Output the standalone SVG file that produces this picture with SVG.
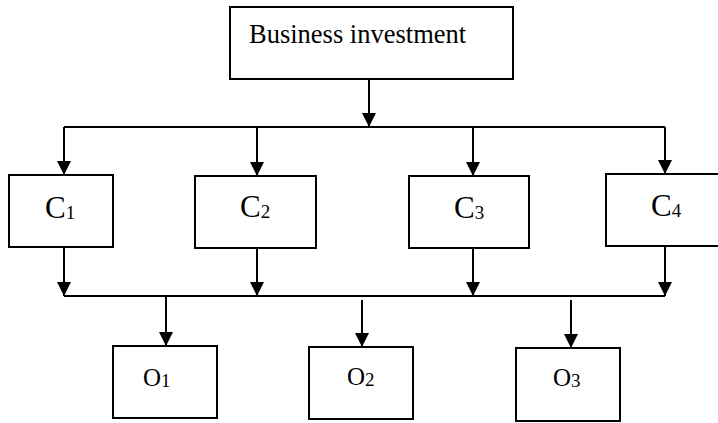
<svg xmlns="http://www.w3.org/2000/svg" width="718" height="423" viewBox="0 0 718 423">
<style>
.box{fill:#fff;stroke:#000;stroke-width:2}
.ln{fill:none;stroke:#000;stroke-width:2}
text{font-family:"Liberation Serif","Times New Roman",serif;fill:#000}
.t1{font-size:26.5px}
.tc{font-size:31px}
.to{font-size:25px}
.sub{font-size:19px}
</style>
<defs>
<marker id="ah" markerWidth="14" markerHeight="14" viewBox="0 0 14 14" refX="14" refY="7" orient="auto" markerUnits="userSpaceOnUse">
<path d="M0,0 L14,7 L0,14 Z" fill="#000"/>
</marker>
</defs>
<rect width="718" height="423" fill="#fff"/>
<g id="connectors">
<line class="ln" x1="369" y1="79" x2="369" y2="127" marker-end="url(#ah)"/>
<line class="ln" x1="64" y1="127" x2="665" y2="127"/>
<line class="ln" x1="64" y1="127" x2="64" y2="175" marker-end="url(#ah)"/>
<line class="ln" x1="257" y1="127" x2="257" y2="176" marker-end="url(#ah)"/>
<line class="ln" x1="473" y1="127" x2="473" y2="176" marker-end="url(#ah)"/>
<line class="ln" x1="665" y1="127" x2="665" y2="174" marker-end="url(#ah)"/>
<line class="ln" x1="64" y1="296" x2="665" y2="296"/>
<line class="ln" x1="64" y1="247" x2="64" y2="296" marker-end="url(#ah)"/>
<line class="ln" x1="257" y1="249" x2="257" y2="296" marker-end="url(#ah)"/>
<line class="ln" x1="473" y1="249" x2="473" y2="296" marker-end="url(#ah)"/>
<line class="ln" x1="665" y1="247" x2="665" y2="296" marker-end="url(#ah)"/>
<line class="ln" x1="166" y1="297" x2="166" y2="346" marker-end="url(#ah)"/>
<line class="ln" x1="362" y1="300" x2="362" y2="347" marker-end="url(#ah)"/>
<line class="ln" x1="571" y1="300" x2="571" y2="348" marker-end="url(#ah)"/>
</g>
<g id="business">
<rect class="box" x="230" y="7" width="283" height="72"/>
<text class="t1" x="249" y="43">Business investment</text>
</g>
<g id="C1">
<rect class="box" x="9" y="175" width="104" height="72"/>
<text class="tc" x="45" y="218">C<tspan class="sub" dy="1">1</tspan></text>
</g>
<g id="C2">
<rect class="box" x="195" y="176" width="121" height="72"/>
<text class="tc" x="240" y="217">C<tspan class="sub" dy="1">2</tspan></text>
</g>
<g id="C3">
<rect class="box" x="409" y="176" width="120" height="72"/>
<text class="tc" x="454" y="218">C<tspan class="sub" dy="1">3</tspan></text>
</g>
<g id="C4">
<rect class="box" x="606" y="174" width="120" height="72"/>
<text class="tc" x="651" y="216">C<tspan class="sub" dy="1">4</tspan></text>
</g>
<g id="O1">
<rect class="box" x="113" y="346" width="104" height="72"/>
<text class="to" x="143" y="386">O<tspan class="sub" dy="1">1</tspan></text>
</g>
<g id="O2">
<rect class="box" x="309" y="347" width="104" height="72"/>
<text class="to" x="347" y="385">O<tspan class="sub" dy="1">2</tspan></text>
</g>
<g id="O3">
<rect class="box" x="516" y="348" width="104" height="73"/>
<text class="to" x="553" y="386">O<tspan class="sub" dy="1">3</tspan></text>
</g>
</svg>
